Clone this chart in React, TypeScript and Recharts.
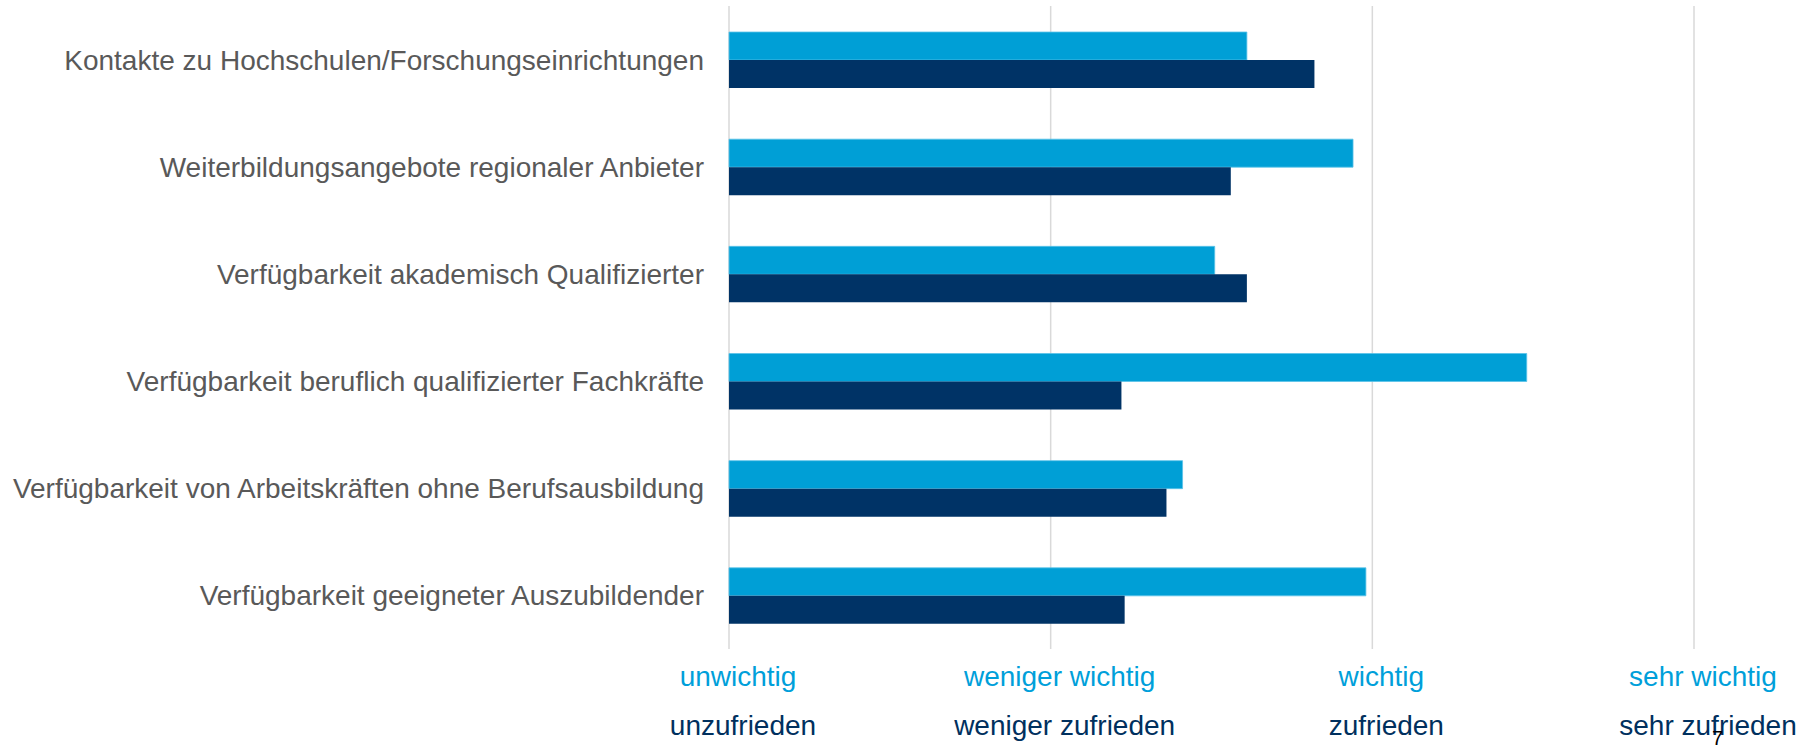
import React from "react";
import { BarChart, Bar, XAxis, YAxis, CartesianGrid } from "recharts";

const categories = [
  "Kontakte zu Hochschulen/Forschungseinrichtungen",
  "Weiterbildungsangebote regionaler Anbieter",
  "Verfügbarkeit akademisch Qualifizierter",
  "Verfügbarkeit beruflich qualifizierter Fachkräfte",
  "Verfügbarkeit von Arbeitskräften ohne Berufsausbildung",
  "Verfügbarkeit geeigneter Auszubildender",
];
const importance = [2.61, 2.94, 2.51, 3.48, 2.41, 2.98];
const satisfaction = [2.82, 2.56, 2.61, 2.22, 2.36, 2.23];

const scaleTicks = [1, 2, 3, 4];
const importanceLabels = ["unwichtig", "weniger wichtig", "wichtig", "sehr wichtig"];
const satisfactionLabels = ["unzufrieden", "weniger zufrieden", "zufrieden", "sehr zufrieden"];

const data = categories.map((name, i) => ({
  name,
  importance: importance[i],
  satisfaction: satisfaction[i],
}));

const LIGHT = "#009FD6";
const DARK = "#003366";
const FONT = "'Liberation Sans', Arial, sans-serif";

function ScaleTick(props: any) {
  const { x, y, payload } = props;
  const idx = scaleTicks.indexOf(payload.value);
  return (
    <g>
      <text x={x + 9} y={y + 37} textAnchor="middle" fill="#009FDA" fontSize={28} fontFamily={FONT}>
        {importanceLabels[idx]}
      </text>
      <text x={x + 14} y={y + 86} textAnchor="middle" fill="#00305E" fontSize={28} fontFamily={FONT}>
        {satisfactionLabels[idx]}
      </text>
    </g>
  );
}

export default function App() {
  return (
    <div style={{ position: "absolute", left: 0, top: 0, width: 1802, height: 749, background: "#fff" }}>
      <BarChart
        width={1802}
        height={749}
        data={data}
        layout="vertical"
        margin={{ top: 6, right: 108, bottom: 0, left: 0 }}
        barCategoryGap={26}
        barGap={0}
      >
        <CartesianGrid horizontal={false} stroke="#D9D9D9" strokeWidth={1.5} />
        <XAxis
          type="number"
          domain={[1, 4]}
          ticks={scaleTicks}
          axisLine={false}
          tickLine={false}
          tickSize={0}
          tickMargin={0}
          height={100}
          tick={<ScaleTick />}
          interval={0}
        />
        <YAxis
          type="category"
          dataKey="name"
          width={729}
          axisLine={false}
          tickLine={false}
          tickSize={0}
          tickMargin={25}
          interval={0}
          tick={{ fill: "#595959", fontSize: 28, fontFamily: FONT }}
        />
        <Bar dataKey="importance" fill={LIGHT} stroke="#5BC3E8" strokeWidth={0.8} isAnimationActive={false} />
        <Bar dataKey="satisfaction" fill={DARK} isAnimationActive={false} />
      </BarChart>
      <div
        style={{
          position: "absolute",
          left: 1712,
          top: 728,
          fontFamily: FONT,
          fontSize: 20,
          color: "#000",
          lineHeight: "20px",
        }}
      >
        7
      </div>
    </div>
  );
}
